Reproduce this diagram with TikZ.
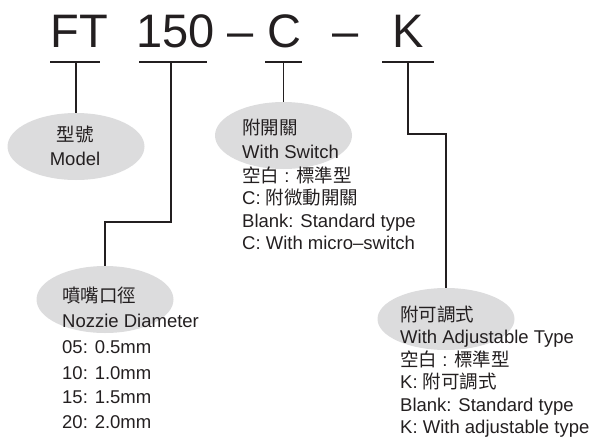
\documentclass[tikz,border=0pt]{standalone}
\usepackage{fontspec}
\setmainfont{Liberation Sans}
\newfontfamily\cjk{Noto Sans CJK TC}
\usetikzlibrary{shapes.geometric}
\definecolor{ink}{HTML}{231F20}
\definecolor{ellfill}{HTML}{DCDCDD}
\begin{document}
\begin{tikzpicture}[x=1pt,y=-1pt,
  bubble/.style={ellipse, fill=ellfill, draw=none, inner sep=0pt, minimum width=137pt, minimum height=67pt},
  big/.style={font=\fontsize{47}{50}\selectfont, text=ink, inner sep=0pt, anchor=base},
  lbl/.style={font=\fontsize{18.5}{20}\selectfont, text=ink, inner sep=0pt, anchor=base west},
  ctr/.style={font=\fontsize{18.5}{20}\selectfont, text=ink, inner sep=0pt, anchor=base},
  wire/.style={draw=ink, line width=1.4pt},
]
\useasboundingbox (0,0) rectangle (592,439);

% header
\node[big] (ft)   at (79,47)    {FT};
\node[big] (n150) at (175.5,47) {150};
\node[big] (d1)   at (240.5,47) {–};
\node[big] (cc)   at (284.5,47) {C};
\node[big] (d2)   at (346,47)   {–};
\node[big] (kk)   at (408.5,47) {K};

% underline coordinates
\coordinate (ftL) at (50,62);   \coordinate (ftR) at (100,62);  \coordinate (ftM) at (76,62);
\coordinate (nL) at (139,62);   \coordinate (nR) at (207,62);   \coordinate (nM) at (171,62);
\coordinate (cL) at (265,62);   \coordinate (cR) at (302,62);   \coordinate (cM) at (283.5,62);
\coordinate (kL) at (382,62);   \coordinate (kR) at (434,62);   \coordinate (kM) at (408,62);
\coordinate (nBend) at (171,222);
\coordinate (kBend) at (408,134);

% bubbles
\node[bubble] (e1) at (76,146.5) {};
\node[bubble] (e2) at (283.5,135.5) {};
\node[bubble] (e3) at (105,299.5) {};
\node[bubble, minimum height=62pt] (e4) at (446,319) {};

% lines
\draw[wire] (ftL) -- (ftR);
\draw[wire] (nL) -- (nR);
\draw[wire] (cL) -- (cR);
\draw[wire] (kL) -- (kR);
\draw[wire] (ftM) -- (e1.north);
\draw[wire] (nM) -- (nBend) -| (e3.north);
\draw[wire] (cM) -- (e2.north);
\draw[wire] (kM) -- (kBend) -| (e4.north);

% model
\node[ctr] (t1a) at (75,141) {\cjk 型號};
\node[ctr] (t1b) at (75,165) {Model};

% switch
\node[lbl] (t2a) at (242,134) {\cjk 附開關};
\node[lbl] (t2b) at (242,158) {With Switch};
\node[lbl] (t2c) at (242,182) {{\cjk 空白} : {\cjk 標準型}};
\node[lbl] (t2d) at (242,204) {C: {\cjk 附微動開關}};
\node[lbl] (t2e) at (242,227) {Blank: Standard type};
\node[lbl] (t2f) at (242,249) {C: With micro–switch};

% nozzle
\node[lbl] (t3a) at (62,302) {\cjk 噴嘴口徑};
\node[lbl] (t3b) at (62,327) {Nozzie Diameter};
\node[lbl] (t3c) at (62,353) {05: 0.5mm};
\node[lbl] (t3d) at (62,379) {10: 1.0mm};
\node[lbl] (t3e) at (62,403) {15: 1.5mm};
\node[lbl] (t3f) at (62,428) {20: 2.0mm};

% adjustable
\node[lbl] (t4a) at (400,321) {\cjk 附可調式};
\node[lbl] (t4b) at (400,343) {With Adjustable Type};
\node[lbl] (t4c) at (400,366) {{\cjk 空白} : {\cjk 標準型}};
\node[lbl] (t4d) at (400,388) {K: {\cjk 附可調式}};
\node[lbl] (t4e) at (400,411) {Blank: Standard type};
\node[lbl] (t4f) at (400,433) {K: With adjustable type};
\end{tikzpicture}
\end{document}
